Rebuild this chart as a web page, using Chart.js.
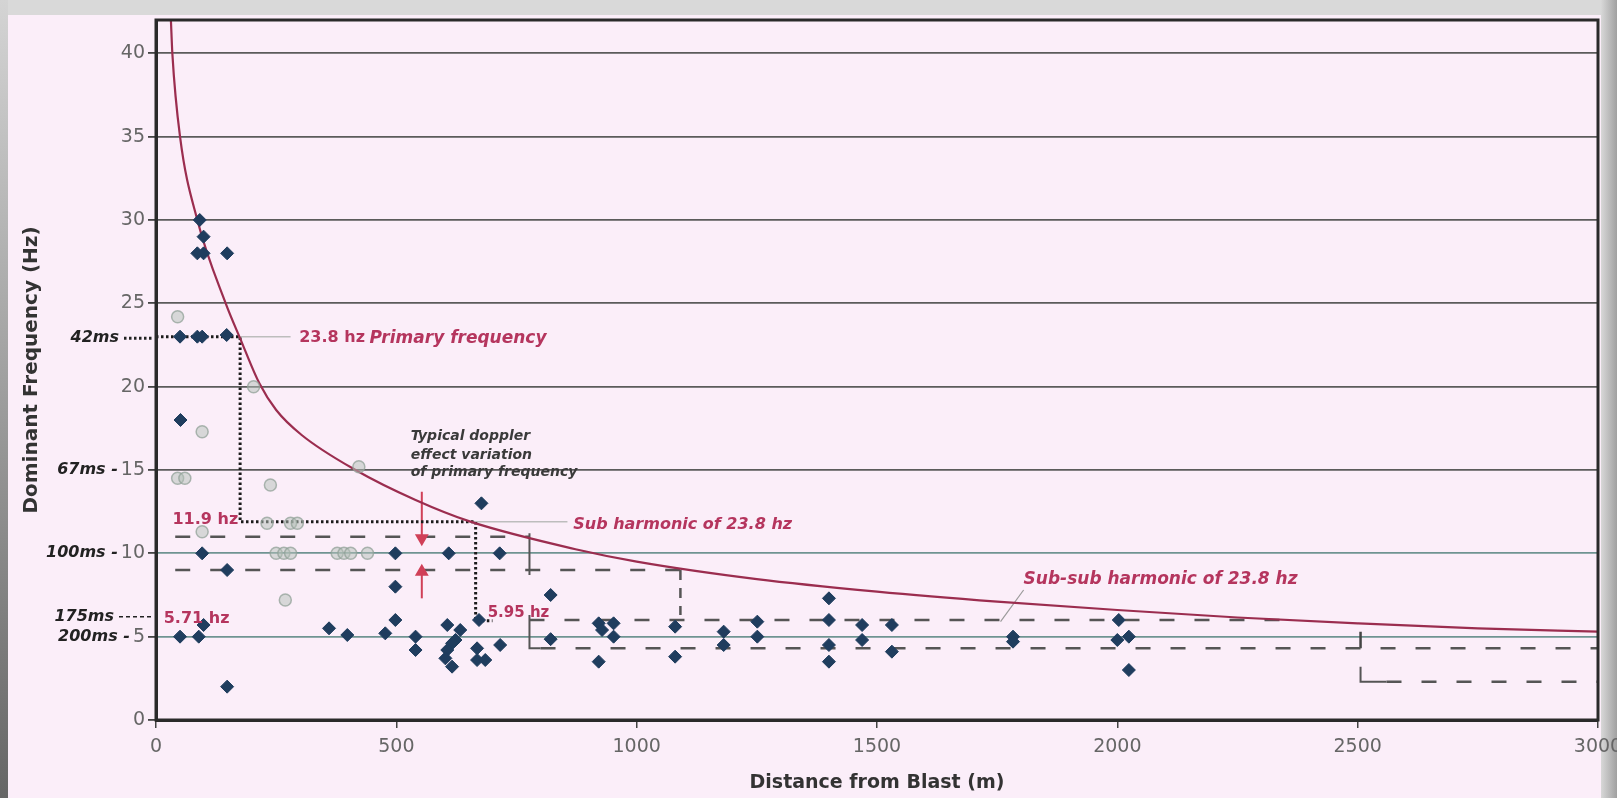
<!DOCTYPE html>
<html>
<head>
<meta charset="utf-8">
<script src="https://cdn.jsdelivr.net/npm/chart.js@4.4.1/dist/chart.umd.min.js"></script>
<style>
  html, body { margin: 0; padding: 0; background: #fbeef9; overflow: hidden; }
  #wrap { position: relative; width: 1617px; height: 798px; }
</style>
</head>
<body>
<div id="wrap"><canvas id="chart"></canvas></div>
<script>
// measured points (distance m, dominant frequency Hz)
const blastX = [91, 99, 86, 99, 148, 50, 86, 96, 147, 51, 96, 148, 50, 89, 99, 148,
    360, 398, 477, 498, 498, 498, 540, 540, 609, 606, 633, 623, 616, 606, 602, 616,
    668, 668, 685, 677, 672, 715, 716, 821, 821, 921, 952, 928, 952, 921, 1080, 1080,
    1181, 1181, 1251, 1251, 1400, 1400, 1400, 1400, 1469, 1469, 1531, 1531, 1783, 1783,
    2003, 2000, 2024, 2024];
const blastY = [30, 29, 28, 28, 28, 23, 23, 23, 23.1, 18, 10, 9, 5, 5, 5.7, 2,
    5.5, 5.1, 5.2, 10, 8, 6, 5, 4.2, 10, 5.7, 5.4, 4.8, 4.6, 4.2, 3.7, 3.2,
    4.3, 3.6, 3.6, 13, 6, 10, 4.5, 7.5, 4.85, 5.8, 5.8, 5.4, 5.0, 3.5, 5.6, 3.8,
    5.3, 4.5, 5.9, 5.0, 7.3, 6.0, 4.5, 3.5, 5.7, 4.8, 5.7, 4.1, 5.0, 4.7,
    6.0, 4.8, 5.0, 3.0];

// faded (grey) points
const ghostX = [45, 203, 96, 45, 60, 238, 422, 96, 231, 280, 294, 250, 266, 280, 377, 391, 405, 440, 269];
const ghostY = [24.2, 20, 17.3, 14.5, 14.5, 14.1, 15.2, 11.3, 11.8, 11.8, 11.8, 10, 10, 10, 10, 10, 10, 10, 7.2];

// red limit curve
const curveX = [31, 34, 50, 86, 145, 175, 215, 250, 303, 415, 540, 654, 880, 1000, 1250, 1500, 1750, 2000, 2250, 2500, 2750, 3000];
const curveY = [42, 40, 35, 30, 25, 22.9, 20.2, 18.6, 17.1, 15, 13.2, 11.9, 10.2, 9.5, 8.45, 7.7, 7.1, 6.6, 6.15, 5.8, 5.5, 5.3];

// construction lines [x, y]
const dotPath = [[0, 23], [175, 23], [175, 11.9], [665, 11.9], [665, 5.95], [700, 5.95]];
const bandHigh = [[40, 11], [777, 11]];
const bandLow = [[40, 9], [1091, 9]];
const bandDrop = [[1091, 9], [1091, 6.3]];
const subHigh = [[777, 6.0], [2370, 6.0]];
const subLow = [[800, 4.3], [3000, 4.3]];
const subSubLow = [[2560, 2.3], [3000, 2.3]];
const tickA = [[777, 11.2], [777, 8.7]];
const bracketA = [[777, 6.3], [777, 4.3], [800, 4.3]];
const tickB = [[2506, 5.3], [2506, 4.3]];
const bracketB = [[2506, 3.2], [2506, 2.3], [2560, 2.3]];
const leadPrimary = [[175, 23], [280, 23]];
const leadSub = [[660, 11.9], [856, 11.9]];
const leadSubSub = [[1757, 5.9], [1805, 7.8]];
const arrowDown = [[553, 13.7], [553, 10.9]];
const arrowUp = [[553, 7.3], [553, 8.9]];

const xTicks = [0, 500, 1000, 1500, 2000, 2500, 3000];
const yTicks = [0, 5, 10, 15, 20, 25, 30, 35, 40];

const RED = '#b5355e';
const FONT = '"DejaVu Sans", sans-serif';

const toPts = (xs, ys) => xs.map((x, i) => ({ x, y: ys[i] }));
const pairs = (arr) => arr.map(([x, y]) => ({ x, y }));

function lineSet(data, color, width, dash) {
    return {
        data: pairs(data),
        showLine: true,
        borderColor: color,
        borderWidth: width,
        borderDash: dash || [],
        pointRadius: 0,
        fill: false,
    };
}

const notes = [
    { text: '23.8 hz', x: 298, y: 22.9, color: RED, font: `bold 16px ${FONT}` },
    { text: 'Primary frequency', x: 444, y: 22.9, color: RED, font: `italic bold 17px ${FONT}` },
    { text: 'Typical doppler', x: 530, y: 17.0, color: '#3a3a3a', font: `italic bold 14px ${FONT}` },
    { text: 'effect variation', x: 530, y: 15.9, color: '#3a3a3a', font: `italic bold 14px ${FONT}` },
    { text: 'of primary frequency', x: 530, y: 14.85, color: '#3a3a3a', font: `italic bold 14px ${FONT}` },
    { text: '11.9 hz', x: 171, y: 12.0, color: RED, font: `bold 16px ${FONT}`, align: 'right' },
    { text: 'Sub harmonic of 23.8 hz', x: 868, y: 11.7, color: RED, font: `italic bold 16px ${FONT}` },
    { text: '5.95 hz', x: 690, y: 6.4, color: RED, font: `bold 15px ${FONT}` },
    { text: '5.71 hz', x: 16, y: 6.05, color: RED, font: `bold 16px ${FONT}` },
    { text: 'Sub-sub harmonic of 23.8 hz', x: 1805, y: 8.4, color: RED, font: `italic bold 17px ${FONT}` },
];

const sideLabels = [
    { text: '42ms', y: 22.9, gap: 37, lead: 'dot' },
    { text: '67ms -', y: 15 },
    { text: '100ms -', y: 10 },
    { text: '175ms', y: 6.2, gap: 42, lead: 'dash' },
    { text: '200ms -', y: 5 },
];

const decor = {
    id: 'decor',
    beforeDraw(chart) {
        const { ctx, width, height } = chart;
        ctx.save();
        ctx.fillStyle = '#fbeef9';
        ctx.fillRect(0, 0, width, height);
        ctx.fillStyle = '#d9d9d9';
        ctx.fillRect(0, 0, width, 15);
        let g = ctx.createLinearGradient(0, 0, 0, height);
        g.addColorStop(0, '#d4d4d4');
        g.addColorStop(1, '#666');
        ctx.fillStyle = g;
        ctx.fillRect(0, 0, 8, height);
        g = ctx.createLinearGradient(width - 16, 0, width, 0);
        g.addColorStop(0, '#d8d8d8');
        g.addColorStop(1, '#a0a0a0');
        ctx.fillStyle = g;
        ctx.fillRect(width - 16, 0, 16, height);
        ctx.restore();
    },
    afterDraw(chart) {
        const { ctx, chartArea: a, scales: { x, y } } = chart;
        ctx.save();
        ctx.strokeStyle = '#2a2a2a';
        ctx.lineWidth = 3;
        ctx.strokeRect(a.left, a.top, a.right - a.left, a.bottom - a.top);

        ctx.textBaseline = 'middle';
        notes.forEach((n) => {
            ctx.font = n.font;
            ctx.fillStyle = n.color;
            ctx.textAlign = n.align || 'left';
            ctx.fillText(n.text, x.getPixelForValue(n.x), y.getPixelForValue(n.y));
        });

        ctx.font = `italic bold 16px ${FONT}`;
        ctx.fillStyle = '#222';
        ctx.textAlign = 'right';
        sideLabels.forEach((s) => {
            const py = y.getPixelForValue(s.y);
            let right;
            if (s.gap) {
                right = a.left - s.gap;
            } else {
                ctx.save();
                ctx.font = `19px ${FONT}`;
                const w = ctx.measureText(String(s.y)).width;
                ctx.restore();
                right = a.left - 11 - w - 3;
            }
            ctx.fillText(s.text, right, py);
            if (s.lead) {
                ctx.beginPath();
                ctx.strokeStyle = '#222';
                ctx.lineWidth = s.lead === 'dot' ? 3 : 1.5;
                ctx.setLineDash(s.lead === 'dot' ? [2.5, 2.5] : [4, 3]);
                ctx.moveTo(right + 5, py);
                ctx.lineTo(a.left - 3, py);
                ctx.stroke();
                ctx.setLineDash([]);
            }
        });
        ctx.restore();
    },
};

const dashStyle = [15, 20];

const datasets = [
    {
        data: toPts(blastX, blastY),
        pointStyle: 'rectRot',
        pointRadius: 6.5,
        backgroundColor: '#1f3d5e',
        borderColor: '#1f3d5e',
        borderWidth: 1,
    },
    {
        data: toPts(ghostX, ghostY),
        pointStyle: 'circle',
        pointRadius: 6,
        backgroundColor: 'rgba(180, 192, 184, 0.5)',
        borderColor: 'rgba(145, 162, 152, 0.75)',
        borderWidth: 1.5,
    },
    {
        ...lineSet([], '#9b2d4f', 2.2),
        data: toPts(curveX, curveY),
        cubicInterpolationMode: 'monotone',
    },
    lineSet(dotPath, '#1a1a1a', 3, [2.5, 2.5]),
    lineSet(leadPrimary, '#bdbdbd', 1.5),
    lineSet(leadSub, '#bdbdbd', 1.5),
    lineSet(leadSubSub, '#9a9a9a', 1.2),
    {
        ...lineSet(arrowDown, '#d04058', 2),
        pointRadius: [0, 6],
        pointStyle: 'triangle',
        pointRotation: 180,
        pointBackgroundColor: '#d04058',
        pointBorderColor: '#d04058',
    },
    {
        ...lineSet(arrowUp, '#d04058', 2),
        pointRadius: [0, 6],
        pointStyle: 'triangle',
        pointRotation: 0,
        pointBackgroundColor: '#d04058',
        pointBorderColor: '#d04058',
    },
    lineSet(bandHigh, '#555', 2.5, dashStyle),
    lineSet(bandLow, '#555', 2.5, dashStyle),
    lineSet(bandDrop, '#555', 2.5, [10, 8]),
    lineSet(subHigh, '#555', 2.5, dashStyle),
    lineSet(subLow, '#555', 2.5, dashStyle),
    lineSet(subSubLow, '#555', 2.5, dashStyle),
    lineSet(tickA, '#555', 2),
    lineSet(bracketA, '#555', 2),
    lineSet(tickB, '#444', 2.5),
    lineSet(bracketB, '#555', 2),
];

Chart.defaults.font.family = FONT;

new Chart(document.getElementById('chart'), {
    type: 'scatter',
    data: { datasets },
    options: {
        responsive: true,
        maintainAspectRatio: false,
        animation: false,
        layout: { padding: { top: 20, right: 19, bottom: 0, left: 0 } },
        plugins: { legend: { display: false }, tooltip: { enabled: false } },
        scales: {
            x: {
                type: 'linear',
                min: 0,
                max: 3000,
                afterBuildTicks: (s) => { s.ticks = xTicks.map((value) => ({ value })); },
                ticks: { color: '#666', font: { size: 19 }, padding: 8, maxRotation: 0, callback: (v) => String(v) },
                grid: { drawOnChartArea: false, tickLength: 8, tickColor: '#444', lineWidth: 1.5 },
                border: { color: '#2a2a2a', width: 3 },
                title: {
                    display: true,
                    text: 'Distance from Blast (m)',
                    color: '#333',
                    font: { size: 19, weight: 'bold' },
                    padding: { top: 0, bottom: 4 },
                },
                afterFit: (s) => { s.height = 78; s.paddingLeft = 0; s.paddingRight = 0; },
            },
            y: {
                type: 'linear',
                min: 0,
                max: 42,
                afterBuildTicks: (s) => { s.ticks = yTicks.map((value) => ({ value })); },
                ticks: { color: '#666', font: { size: 19 }, padding: 3, callback: (v) => String(v) },
                grid: {
                    color: (c) => (c.tick && (c.tick.value === 5 || c.tick.value === 10) ? '#6f9492' : '#5b5b5b'),
                    lineWidth: 1.8,
                    tickLength: 8,
                    tickColor: '#444',
                },
                border: { color: '#2a2a2a', width: 3 },
                title: {
                    display: true,
                    text: 'Dominant Frequency (Hz)',
                    color: '#333',
                    font: { size: 20, weight: 'bold' },
                    padding: { top: 20, bottom: 0 },
                },
                afterFit: (s) => { s.width = 156; s.paddingTop = 0; s.paddingBottom = 0; },
            },
        },
    },
    plugins: [decor],
});
</script>
</body>
</html>
